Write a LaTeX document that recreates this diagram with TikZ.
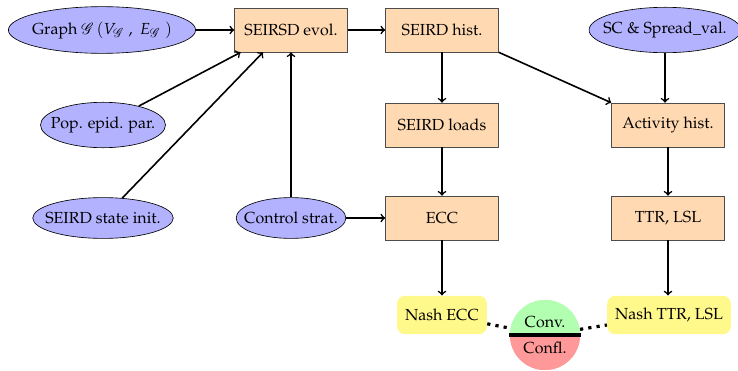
\documentclass[tikz,border=0pt]{standalone}
\usepackage[T1]{fontenc}
\usepackage{mathpazo}
\usepackage{mathrsfs}
\usetikzlibrary{shapes.geometric,shapes.multipart}

\begin{document}
\begin{tikzpicture}[x=0.625pt, y=-0.625pt,
	inp/.style={ellipse, draw, fill=blue!30, inner xsep=-5pt, inner ysep=5pt, minimum height=25.5pt},
	blk/.style={rectangle, draw=black!70, fill=orange!30, minimum width=70.6pt, minimum height=27.5pt},
	nash/.style={rectangle, rounded corners=5pt, fill=yellow!45, inner xsep=5pt, minimum height=24pt},
	halves/.style={path picture={
		\fill[green!30] (path picture bounding box.north west) rectangle (path picture bounding box.east);
		\fill[red!40] (path picture bounding box.south west) rectangle (path picture bounding box.east);}},
	conn/.style={->, line width=1pt},
	dots/.style={line width=2pt, dash pattern=on 2pt off 3.2pt}]
		\useasboundingbox (0, 0) rectangle (738, 371);

		\node[inp, minimum width=117pt] (graph) at (102, 30) {Graph $\mathscr{G}\,(V_{\mathscr{G}}\;,\;E_{\mathscr{G}}\;)$};
		\node[blk] (evol) at (291, 30) {SEIRSD evol.};
		\node[blk] (hist) at (442, 30) {SEIRD hist.};
		\node[inp] (sc) at (665, 30) {SC \& Spread\_val.};

		\node[inp] (pop) at (103, 125) {Pop. epid. par.};
		\node[blk] (loads) at (442, 125) {SEIRD loads};
		\node[blk] (act) at (668, 125) {Activity hist.};

		\node[inp] (init) at (103, 218) {SEIRD state init.};
		\node[inp] (ctrl) at (291, 218) {Control strat.};
		\node[blk] (ecc) at (442, 218) {ECC};
		\node[blk] (ttr) at (668, 218) {TTR, LSL};

		\node[nash] (necc) at (442, 315) {Nash ECC};
		\node[nash] (nttr) at (669, 315) {Nash TTR, LSL};
		\node[circle split, minimum size=44pt, inner xsep=1pt, inner ysep=4pt, halves] (eq) at (545, 335) {Conv. \nodepart{lower} Confl.};
		\draw[line width=2pt] (eq.west) -- (eq.east);

		\draw[conn] (graph) -- (evol);
		\draw[conn] (pop) -- ([xshift=4pt]evol.south west);
		\draw[conn] (init) -- ([xshift=18pt]evol.south west);
		\draw[conn] (ctrl) -- (ctrl |- evol.south);
		\draw[conn] (ctrl) -- (ecc);
		\draw[conn] (evol) -- (hist);
		\draw[conn] (hist) -- (loads);
		\draw[conn] (hist.south east) -- (act.north west);
		\draw[conn] (sc) -- (sc |- act.north);
		\draw[conn] (loads) -- (ecc);
		\draw[conn] (act) -- (ttr);
		\draw[conn] (ecc) -- (necc);
		\draw[conn] (ttr) -- (ttr |- nttr.north);

		\draw[dots] (necc) -- (eq);
		\draw[dots] (eq) -- (nttr);
	\end{tikzpicture}
\end{document}
